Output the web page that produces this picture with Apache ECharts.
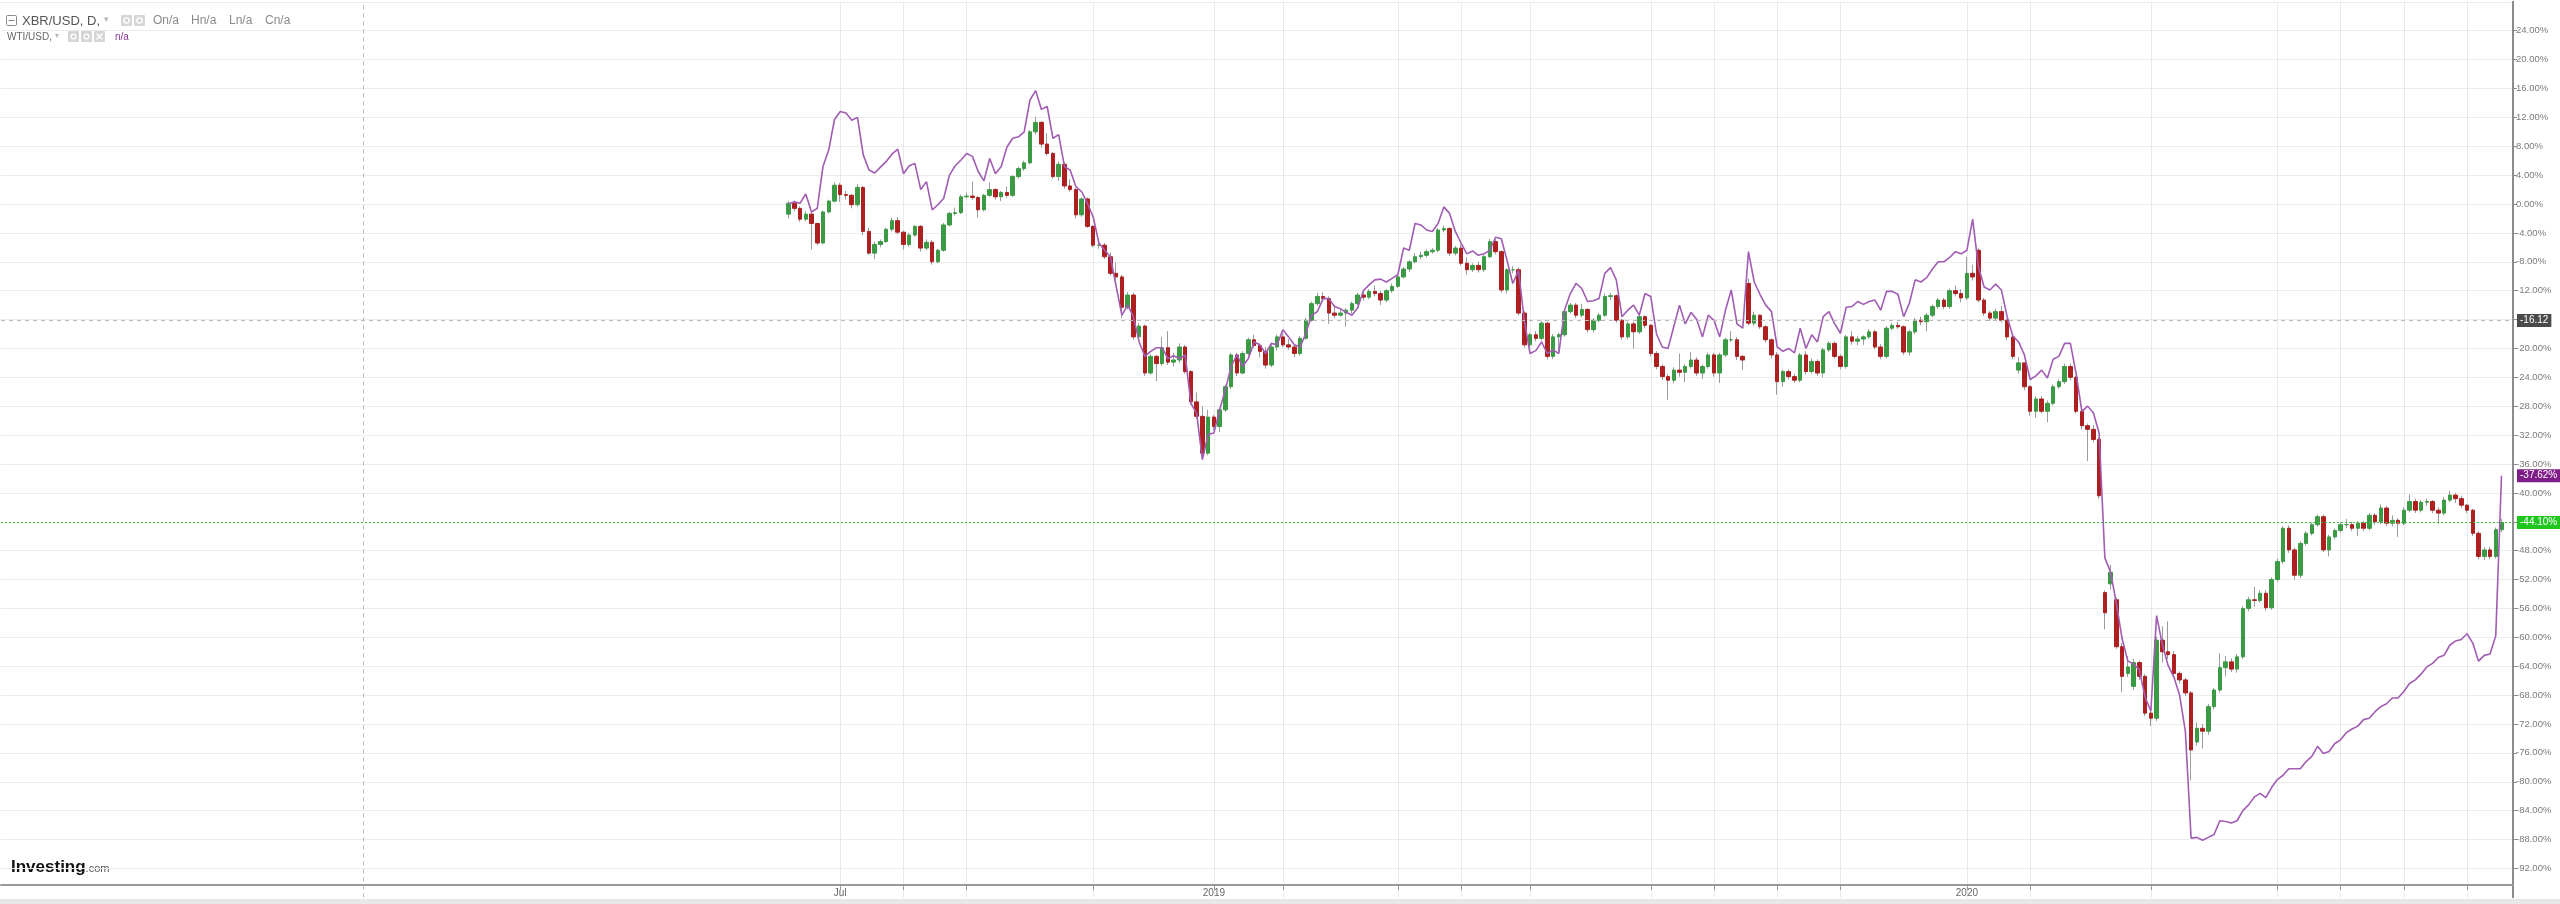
<!DOCTYPE html>
<html><head><meta charset="utf-8">
<script src="https://cdn.jsdelivr.net/npm/echarts@6/dist/echarts.min.js"></script>
<style>html,body{margin:0;padding:0;background:#fff;overflow:hidden}#chart{width:2560px;height:904px}</style>
</head><body><div id="chart"></div>
<script>
// ---------- axis / category definition ----------
const axisStartDate = '2017-05-19';   // first (empty) slot of the visible time axis
const axisSlots = 438;                // number of 2-trading-day slots shown
const tradingDaysPerSlot = 2;
const firstDataDate = '2018-06-07';   // first XBR / WTI point
// months that carry a vertical grid line / tick on the x axis
const gridMonths = ['2018-07','2018-08','2018-09','2018-11','2019-01','2019-02','2019-04','2019-05','2019-06',
  '2019-08','2019-09','2019-10','2019-11','2020-01','2020-02','2020-04','2020-06','2020-07','2020-08','2020-09'];
// x tick labels
const xTickLabels = {'2018-07':'Jul','2019-01':'2019','2020-01':'2020'};
// y axis (percent change)
const yMin = -96, yMax = 28, yStep = 4;

// ---------- series values (percent change from first bar) ----------
// XBR/USD candles: [open, close, low, high]
const xbrOHLC = [
[-1.4,0.1,-2.0,0.4],[0.1,-0.6,-1.0,0.5],[-0.6,-2.1,-2.5,-0.3],[-2.1,-1.4,-2.4,-1.0],[-1.4,-2.7,-6.3,-1.2],
[-2.7,-5.4,-5.7,-2.6],[-5.4,-1.1,-5.6,-0.9],[-1.1,0.4,-1.3,0.6],[0.4,2.6,0.2,3.0],[2.6,1.3,0.3,2.9],
[1.3,1.2,0.6,1.8],[1.2,-0.1,-0.6,1.4],[-0.1,2.3,-0.4,2.8],[2.3,-3.8,-4.3,2.5],[-3.8,-6.8,-7.0,-3.3],
[-6.8,-5.6,-7.6,-5.2],[-5.6,-5.2,-6.0,-4.9],[-5.2,-3.5,-5.4,-3.3],[-3.5,-2.3,-3.8,-1.9],[-2.3,-3.9,-4.2,-1.8],
[-3.9,-5.6,-6.3,-3.7],[-5.6,-4.3,-5.9,-4.0],[-4.3,-3.1,-4.5,-2.9],[-3.1,-6.1,-6.6,-2.9],[-6.1,-5.3,-6.4,-4.9],
[-5.3,-8.0,-8.4,-5.0],[-8.0,-6.4,-8.2,-6.2],[-6.4,-2.9,-6.6,-2.6],[-2.9,-1.3,-3.1,-1.1],[-1.3,-1.2,-1.6,-0.5],
[-1.2,1.0,-1.4,1.3],[1.0,1.1,0.8,1.6],[1.1,0.9,0.6,3.1],[0.9,-0.8,-1.9,1.1],[-0.8,1.2,-1.0,1.4],
[1.2,2.0,1.0,3.0],[2.0,1.0,0.6,2.2],[1.0,1.6,0.4,1.8],[1.6,1.2,0.9,2.4],[1.2,3.8,1.0,4.0],
[3.8,4.9,3.5,5.2],[4.9,5.7,4.6,6.0],[5.7,10.0,5.5,10.2],[10.0,11.3,9.6,12.1],[11.3,8.3,7.8,11.5],
[8.3,7.0,6.7,9.8],[7.0,3.8,3.5,7.2],[3.8,5.5,3.2,5.9],[5.5,2.5,2.1,5.8],[2.5,2.0,1.7,3.4],
[2.0,-1.5,-2.0,2.2],[-1.5,0.7,-1.8,0.9],[0.7,-3.1,-3.3,0.9],[-3.1,-5.7,-6.0,-2.9],[-5.7,-5.7,-6.2,-5.1],
[-5.7,-7.3,-7.6,-5.4],[-7.3,-9.6,-9.9,-6.7],[-9.6,-10.1,-10.5,-8.1],[-10.1,-14.3,-15.8,-9.8],[-14.3,-12.6,-14.6,-12.2],
[-12.6,-18.4,-18.8,-12.3],[-18.4,-16.9,-18.7,-16.5],[-16.9,-23.4,-23.8,-16.7],[-23.4,-21.1,-23.6,-20.8],[-21.1,-22.1,-24.5,-20.9],
[-22.1,-19.9,-22.4,-18.4],[-19.9,-21.9,-22.3,-17.6],[-21.9,-21.6,-22.5,-20.6],[-21.6,-19.8,-22.0,-19.3],[-19.8,-23.2,-23.5,-19.5],
[-23.2,-27.4,-27.8,-23.0],[-27.4,-29.4,-29.7,-26.1],[-29.4,-34.5,-35.0,-28.0],[-34.5,-29.5,-34.8,-28.5],[-29.5,-30.8,-31.3,-29.2],
[-30.8,-28.5,-31.6,-28.2],[-28.5,-25.3,-28.8,-25.0],[-25.3,-20.9,-25.6,-20.6],[-20.9,-23.4,-23.8,-20.6],[-23.4,-20.7,-23.6,-20.4],
[-20.7,-18.8,-21.0,-18.5],[-18.8,-19.6,-19.9,-18.1],[-19.6,-20.4,-21.2,-19.3],[-20.4,-22.3,-22.8,-19.8],[-22.3,-19.8,-22.6,-19.4],
[-19.8,-18.4,-20.3,-18.1],[-18.4,-19.5,-19.8,-17.9],[-19.5,-19.8,-20.2,-18.7],[-19.8,-20.7,-21.2,-19.4],[-20.7,-18.6,-21.0,-18.3],
[-18.6,-16.1,-18.8,-15.8],[-16.1,-13.8,-16.3,-13.5],[-13.8,-12.8,-14.1,-12.3],[-12.8,-13.1,-13.6,-12.2],[-13.1,-15.1,-16.6,-12.8],
[-15.1,-15.4,-15.8,-14.0],[-15.4,-15.1,-15.6,-14.7],[-15.1,-14.7,-17.0,-14.4],[-14.7,-13.8,-15.2,-13.5],[-13.8,-12.6,-14.0,-12.3],
[-12.6,-12.9,-13.4,-12.2],[-12.9,-12.1,-13.2,-11.8],[-12.1,-12.4,-12.8,-11.3],[-12.4,-13.3,-14.0,-12.0],[-13.3,-12.0,-13.6,-11.8],
[-12.0,-11.4,-12.3,-11.0],[-11.4,-10.1,-11.6,-9.8],[-10.1,-9.0,-10.3,-8.7],[-9.0,-8.0,-9.4,-7.8],[-8.0,-7.3,-8.2,-6.8],
[-7.3,-7.1,-7.6,-6.6],[-7.1,-6.6,-7.4,-6.3],[-6.6,-6.4,-6.9,-6.1],[-6.4,-3.6,-6.7,-3.3],[-3.6,-3.4,-3.9,-3.0],
[-3.4,-6.8,-7.2,-3.2],[-6.8,-6.1,-7.1,-5.8],[-6.1,-8.2,-8.5,-5.6],[-8.2,-9.1,-9.8,-7.4],[-9.1,-8.5,-9.4,-8.2],
[-8.5,-9.1,-9.5,-8.0],[-9.1,-7.3,-9.4,-7.0],[-7.3,-5.2,-7.5,-4.8],[-5.2,-6.6,-7.0,-4.8],[-6.6,-11.9,-12.3,-6.4],
[-11.9,-9.1,-12.4,-8.9],[-9.1,-9.1,-9.6,-8.6],[-9.1,-15.1,-15.4,-8.8],[-15.1,-19.5,-19.9,-14.8],[-19.5,-18.1,-19.8,-17.8],
[-18.1,-18.6,-19.0,-17.6],[-18.6,-16.5,-18.9,-16.2],[-16.5,-21.1,-21.5,-16.3],[-21.1,-18.4,-21.5,-18.0],[-18.4,-18.1,-20.6,-17.8],
[-18.1,-14.9,-18.4,-14.6],[-14.9,-14.0,-15.2,-13.7],[-14.0,-15.4,-15.8,-13.7],[-15.4,-14.6,-15.7,-13.8],[-14.6,-17.4,-17.8,-14.4],
[-17.4,-16.1,-17.8,-15.8],[-16.1,-15.4,-16.4,-15.1],[-15.4,-12.8,-15.6,-12.4],[-12.8,-12.7,-13.3,-12.3],[-12.7,-16.1,-16.4,-12.5],
[-16.1,-18.4,-18.8,-15.9],[-18.4,-16.6,-18.7,-16.3],[-16.6,-17.7,-20.0,-16.3],[-17.7,-15.6,-18.0,-15.3],[-15.6,-16.8,-17.2,-15.4],
[-16.8,-20.7,-21.1,-16.6],[-20.7,-22.5,-22.9,-20.4],[-22.5,-23.9,-24.4,-22.2],[-23.9,-24.4,-27.1,-23.6],[-24.4,-23.0,-24.8,-22.6],
[-23.0,-23.3,-23.9,-20.7],[-23.3,-22.5,-24.7,-22.2],[-22.5,-21.6,-22.8,-20.5],[-21.6,-23.4,-23.8,-21.2],[-23.4,-22.5,-24.2,-22.2],
[-22.5,-20.9,-22.8,-20.6],[-20.9,-23.4,-23.9,-20.6],[-23.4,-20.9,-24.8,-20.6],[-20.9,-18.8,-21.2,-18.5],[-18.8,-18.8,-19.1,-17.6],
[-18.8,-21.1,-21.6,-18.4],[-21.1,-21.6,-23.0,-20.9],[-11.0,-16.5,-16.8,-10.3],[-16.5,-15.4,-16.9,-14.9],[-15.4,-17.0,-17.3,-15.3],
[-17.0,-18.8,-19.2,-16.8],[-18.8,-20.9,-21.4,-18.6],[-20.9,-24.6,-26.4,-20.5],[-24.6,-23.2,-25.3,-22.9],[-23.2,-23.9,-24.3,-22.9],
[-23.9,-24.4,-24.8,-23.5],[-24.4,-20.9,-24.7,-20.6],[-20.9,-23.2,-23.6,-20.4],[-23.2,-21.8,-23.5,-21.4],[-21.8,-23.4,-23.8,-21.5],
[-23.4,-20.2,-24.0,-19.9],[-20.2,-19.3,-20.5,-19.0],[-19.3,-21.1,-21.4,-19.0],[-21.1,-22.5,-22.9,-20.8],[-22.5,-18.4,-22.8,-18.1],
[-18.4,-19.0,-19.5,-17.6],[-19.0,-18.7,-19.6,-18.3],[-18.7,-18.4,-19.5,-18.2],[-18.4,-17.7,-18.7,-17.3],[-17.7,-19.8,-20.1,-17.4],
[-19.8,-21.1,-21.5,-19.4],[-21.1,-17.2,-21.4,-16.9],[-17.2,-16.8,-17.5,-16.5],[-16.8,-17.0,-17.3,-16.3],[-17.0,-20.5,-20.9,-16.8],
[-20.5,-17.7,-21.0,-17.4],[-17.7,-16.1,-18.0,-15.8],[-16.1,-16.3,-16.8,-15.6],[-16.3,-15.4,-17.6,-15.1],[-15.4,-14.2,-15.7,-13.9],
[-14.2,-13.3,-14.5,-13.0],[-13.3,-14.2,-14.6,-13.0],[-14.2,-12.0,-14.5,-11.7],[-12.0,-12.4,-12.8,-11.3],[-12.4,-13.0,-13.6,-11.8],
[-13.0,-9.6,-13.3,-7.3],[-9.6,-10.1,-10.6,-8.4],[-6.4,-13.3,-13.6,-6.1],[-13.3,-15.1,-15.5,-13.0],[-15.1,-15.8,-16.2,-14.8],
[-15.8,-14.9,-16.1,-14.5],[-14.9,-16.1,-16.4,-14.1],[-16.1,-18.4,-18.8,-15.9],[-18.4,-21.1,-21.5,-18.1],[-23.0,-22.0,-23.5,-21.2],
[-22.0,-25.3,-25.8,-21.9],[-25.3,-28.7,-29.3,-25.1],[-28.7,-27.0,-29.6,-26.6],[-27.0,-28.7,-29.0,-26.6],[-28.7,-27.6,-30.2,-27.2],
[-27.6,-25.3,-27.9,-25.0],[-25.3,-24.6,-25.6,-24.3],[-24.6,-22.5,-24.9,-22.1],[-22.5,-24.0,-24.4,-22.1],[-24.0,-28.7,-29.0,-23.8],
[-28.7,-30.7,-31.2,-28.4],[-30.7,-31.2,-35.6,-30.4],[-31.2,-32.6,-33.0,-30.6],[-32.6,-40.4,-40.8,-32.3],[-53.8,-56.6,-58.9,-53.5],
[-52.6,-51.0,-53.4,-50.0],[-54.8,-61.3,-61.6,-54.5],[-61.3,-65.4,-67.6,-60.8],[-65.0,-64.1,-65.5,-62.6],[-66.8,-63.5,-67.3,-63.0],
[-63.5,-65.4,-65.9,-63.2],[-65.4,-70.5,-70.9,-65.1],[-70.5,-71.2,-72.3,-70.2],[-71.2,-60.4,-71.6,-59.9],[-60.4,-62.0,-63.5,-58.5],
[-62.0,-62.4,-63.0,-57.8],[-62.4,-65.0,-65.5,-61.9],[-65.0,-65.9,-66.4,-64.7],[-65.9,-67.7,-68.1,-65.6],[-67.7,-75.6,-79.8,-67.4],
[-74.5,-72.6,-75.0,-71.8],[-72.6,-73.0,-75.4,-72.0],[-73.0,-69.6,-73.5,-69.2],[-69.6,-67.3,-70.0,-67.0],[-67.3,-64.2,-67.6,-62.2],
[-64.2,-63.4,-65.4,-62.6],[-63.4,-64.4,-64.8,-62.9],[-64.4,-62.7,-64.9,-62.3],[-62.7,-56.0,-63.0,-55.7],[-56.0,-54.8,-56.4,-54.4],
[-54.8,-54.9,-55.8,-53.0],[-54.9,-53.9,-55.2,-53.5],[-53.9,-55.9,-56.3,-53.5],[-55.9,-52.0,-56.2,-51.7],[-52.0,-49.5,-52.3,-49.1],
[-49.5,-44.9,-49.8,-44.6],[-44.9,-47.9,-48.3,-44.5],[-47.9,-51.4,-52.0,-47.6],[-51.4,-47.0,-51.8,-46.7],[-47.0,-45.6,-47.3,-45.3],
[-45.6,-44.4,-45.9,-44.1],[-44.4,-43.3,-44.7,-43.0],[-43.3,-47.9,-48.2,-43.0],[-47.9,-46.1,-48.8,-45.8],[-46.1,-45.2,-46.4,-44.9],
[-45.2,-44.4,-45.5,-44.1],[-44.4,-44.4,-44.9,-43.6],[-44.4,-44.9,-45.3,-44.0],[-44.9,-44.2,-46.0,-43.9],[-44.2,-44.9,-45.3,-43.9],
[-44.9,-43.1,-45.2,-42.8],[-43.1,-44.0,-44.4,-42.8],[-44.0,-42.1,-44.3,-41.6],[-42.1,-44.2,-44.6,-41.8],[-44.2,-43.8,-44.6,-43.1],
[-43.8,-44.2,-46.1,-43.5],[-44.2,-42.4,-44.5,-42.0],[-42.4,-41.2,-42.7,-40.2],[-41.2,-42.4,-42.8,-40.8],[-42.4,-41.3,-42.7,-41.0],
[-41.3,-41.2,-41.8,-40.8],[-41.2,-42.4,-42.8,-41.0],[-42.4,-42.8,-44.3,-42.0],[-42.8,-41.0,-43.1,-40.6],[-41.0,-40.3,-41.3,-39.7],
[-40.3,-40.8,-41.4,-40.0],[-40.8,-41.7,-42.1,-40.4],[-41.7,-42.4,-42.8,-41.5],[-42.4,-45.6,-46.0,-42.2],[-45.6,-48.8,-49.2,-45.3],
[-48.8,-47.9,-49.3,-47.5],[-47.9,-48.8,-49.2,-47.5],[-48.8,-45.1,-49.1,-44.8],[-45.1,-44.1,-45.4,-43.6]
];
// WTI/USD line
const wtiPct = [
0.0,0.3,0.1,1.4,-1.1,-0.6,5.2,7.5,11.7,12.8,12.6,11.6,12.0,6.8,4.7,4.3,5.1,5.9,6.9,7.6,
4.2,5.3,5.6,2.0,3.1,-0.8,-0.1,0.8,4.0,5.3,6.1,7.0,6.6,4.5,3.2,6.3,4.2,5.2,7.9,9.1,
9.3,10.0,14.4,15.7,13.1,13.5,9.1,9.6,5.2,4.7,2.4,1.7,0.1,-1.8,-5.4,-6.4,-7.3,-11.4,-15.4,-14.0,
-15.6,-19.1,-21.1,-20.4,-19.9,-19.9,-21.4,-21.0,-21.4,-20.9,-27.6,-29.0,-35.4,-31.9,-31.7,-28.5,-25.7,-22.5,-20.9,-22.5,
-21.4,-19.1,-19.5,-20.7,-19.3,-19.5,-17.4,-18.4,-19.5,-19.8,-17.9,-15.4,-14.9,-13.1,-13.1,-14.2,-14.5,-15.0,-15.4,-14.4,
-12.0,-11.2,-10.5,-10.4,-10.8,-10.3,-9.8,-6.1,-6.4,-2.7,-2.9,-3.6,-3.8,-2.7,-0.4,-1.3,-3.8,-5.4,-6.9,-6.5,
-7.1,-6.9,-6.4,-4.6,-4.8,-7.8,-11.0,-9.2,-16.1,-20.7,-20.3,-19.1,-20.7,-20.2,-20.7,-14.7,-12.4,-11.0,-11.7,-13.5,
-13.4,-13.1,-9.6,-8.8,-10.5,-15.6,-14.7,-14.0,-15.4,-12.4,-12.8,-18.0,-19.8,-20.0,-17.0,-14.0,-16.6,-15.0,-16.0,-18.4,
-15.4,-16.1,-18.4,-14.7,-11.9,-16.6,-17.2,-6.6,-10.8,-12.5,-14.0,-14.9,-19.8,-20.4,-20.0,-20.6,-17.2,-20.0,-18.1,-19.1,
-15.6,-14.9,-16.6,-17.9,-14.3,-14.2,-13.5,-13.9,-13.5,-13.3,-14.7,-12.1,-12.1,-12.5,-15.6,-13.7,-10.5,-10.8,-10.2,-9.0,
-8.0,-8.0,-7.4,-6.6,-6.9,-6.4,-2.1,-8.7,-11.5,-11.9,-11.1,-11.9,-15.6,-18.3,-19.1,-20.9,-24.3,-23.8,-23.0,-24.1,
-21.5,-21.1,-19.3,-19.3,-23.5,-28.7,-28.0,-28.9,-31.7,-49.0,-51.0,-55.3,-60.2,-63.3,-63.7,-64.5,-68.3,-70.2,-57.0,-61.0,
-63.9,-65.5,-68.0,-73.0,-87.8,-87.7,-88.1,-87.7,-87.3,-85.4,-85.5,-85.7,-85.4,-84.0,-83.2,-82.1,-81.6,-82.2,-80.8,-79.7,
-79.1,-78.2,-78.2,-78.2,-77.2,-76.5,-75.1,-76.1,-75.8,-74.7,-74.2,-73.2,-72.7,-72.3,-71.4,-71.2,-70.3,-69.6,-69.2,-68.4,
-68.4,-67.5,-66.4,-65.9,-65.1,-64.1,-63.6,-62.8,-62.5,-61.1,-60.5,-60.3,-59.5,-60.8,-63.3,-62.5,-62.3,-59.8,-37.62
];
const xbrLast = -44.10;
const wtiLast = -37.62;
const crosshairDate = '2017-11-13';
const crosshairValue = -16.12;

// ---------- build ----------
function addWeekdays(date, n) {
  const r = new Date(date.getTime());
  let k = 0;
  while (k < n) { r.setUTCDate(r.getUTCDate() + 1); const w = r.getUTCDay(); if (w !== 0 && w !== 6) k++; }
  return r;
}
const categories = [];
let cur = new Date(axisStartDate + 'T00:00:00Z');
for (let i = 0; i < axisSlots; i++) { categories.push(cur.toISOString().slice(0, 10)); cur = addWeekdays(cur, tradingDaysPerSlot); }
const firstIdx = categories.findIndex(c => c >= firstDataDate);
const ym = c => c.slice(0, 7);
const monthStart = categories.map((c, i) => i === 0 || ym(categories[i - 1]) !== ym(c));
const isGrid = i => monthStart[i] && gridMonths.indexOf(ym(categories[i])) >= 0;
const isLabel = i => monthStart[i] && xTickLabels[ym(categories[i])] !== undefined;

const wickData = xbrOHLC.map((r, k) => [firstIdx + k, r[0], r[1], r[2], r[3]]);
const bodyData = xbrOHLC.map((r, k) => [firstIdx + k, r[0], r[1], Math.min(r[0], r[1]), Math.max(r[0], r[1])]);
const wtiData = wtiPct.map((v, k) => [firstIdx + k, v]);

const nLines = Math.round((yMax - yMin) / yStep) + 1;
const hSplitColors = [];
for (let i = 0; i < nLines; i++) hSplitColors.push(i === 0 ? 'rgba(0,0,0,0)' : '#ececec');

const UP = '#3b9b45', DOWN = '#ae1f1f', WICK = '#9c9c9c', WTI = '#a15cb3';
const FONT = 'Liberation Sans, Arial, sans-serif';

const chart = echarts.init(document.getElementById('chart'), null, {renderer: 'canvas', width: 2560, height: 904});
const gridTop = 1.8, gridBottom = 6.7;
chart.setOption({
  animation: false,
  backgroundColor: '#ffffff',
  grid: {left: 1, right: 47, top: gridTop, bottom: gridBottom, containLabel: false},
  xAxis: {
    type: 'category', data: categories, boundaryGap: false, offset: -12.3,
    axisLine: {show: true, onZero: false, lineStyle: {color: '#9a9a9a', width: 2}},
    axisTick: {show: true, interval: i => isGrid(i), length: 5, lineStyle: {color: '#9a9a9a'}},
    axisLabel: {interval: i => isLabel(i), formatter: v => xTickLabels[ym(v)] || '', color: '#666', fontSize: 10, fontFamily: FONT, margin: 3},
    splitLine: {show: true, interval: i => isGrid(i), lineStyle: {color: '#e9e9e9', width: 1}}
  },
  yAxis: {
    type: 'value', position: 'right', min: yMin, max: yMax, interval: yStep,
    axisLine: {show: true, onZero: false, lineStyle: {color: '#8c8c8c', width: 2}},
    axisTick: {show: true, length: 4, lineStyle: {color: '#8c8c8c'}},
    axisLabel: {formatter: v => v.toFixed(2) + '%', color: '#7a7a7a', fontSize: 9.5, fontFamily: FONT, margin: 3,
      showMinLabel: false, showMaxLabel: false},
    splitLine: {show: true, lineStyle: {color: hSplitColors, width: 1}}
  },
  series: [
    {type: 'candlestick', name: 'XBR wicks', data: wickData, encode: {x: 0, y: [1, 2, 3, 4]}, large: false,
      barWidth: 1, silent: true, z: 2,
      itemStyle: {color: WICK, color0: WICK, borderColor: WICK, borderColor0: WICK, borderWidth: 1}},
    {type: 'candlestick', name: 'XBR/USD', data: bodyData, encode: {x: 0, y: [1, 2, 3, 4]}, large: false,
      barWidth: 4, silent: true, z: 3,
      itemStyle: {color: UP, color0: DOWN, borderColor: UP, borderColor0: DOWN, borderWidth: 1},
      markLine: {silent: true, symbol: ['none', 'none'], animation: false,
        data: [
          {xAxis: crosshairDate, lineStyle: {type: [4, 4], color: '#b8b8b8', width: 1}, label: {show: false}},
          {yAxis: crosshairValue, lineStyle: {type: [4, 4], color: '#b8b8b8', width: 1},
            label: {show: true, position: 'end', distance: 4, formatter: () => crosshairValue.toFixed(2),
              backgroundColor: '#4b4b4b', color: '#fff', padding: [2, 3, 1, 3], fontSize: 10, fontFamily: FONT}},
          {yAxis: xbrLast, lineStyle: {type: [2, 2], color: '#3cc53c', width: 1},
            label: {show: true, position: 'end', distance: 4, formatter: () => xbrLast.toFixed(2) + '%',
              backgroundColor: '#20c620', color: '#fff', padding: [2, 3, 1, 3], fontSize: 10, fontFamily: FONT}}
        ]}},
    {type: 'line', name: 'WTI/USD', data: wtiData, showSymbol: false, symbol: 'none', silent: true, z: 4,
      lineStyle: {color: WTI, width: 1.6}, itemStyle: {color: WTI},
      markLine: {silent: true, symbol: ['none', 'none'], animation: false,
        data: [{yAxis: wtiLast, lineStyle: {color: 'rgba(0,0,0,0)', width: 0},
          label: {show: true, position: 'end', distance: 4, formatter: () => wtiLast.toFixed(2) + '%',
            backgroundColor: '#7e1c88', color: '#fff', padding: [2, 3, 1, 3], fontSize: 10, fontFamily: FONT}}]}}
  ],
  graphic: [
    {type: 'rect', silent: true, z: 0, shape: {x: 0, y: 899, width: 2560, height: 5}, style: {fill: '#e8e8e8'}},
    // header row 1
    {type: 'rect', silent: true, shape: {x: 6.5, y: 15.5, width: 10, height: 10, r: 1}, style: {fill: '#fff', stroke: '#8a8a8a', lineWidth: 1}},
    {type: 'line', silent: true, shape: {x1: 8.5, y1: 20.5, x2: 14.5, y2: 20.5}, style: {stroke: '#8a8a8a', lineWidth: 1}},
    {type: 'text', silent: true, x: 22, y: 21, style: {text: 'XBR/USD, D,', fontSize: 13, fontFamily: FONT, fill: '#555', verticalAlign: 'middle', textVerticalAlign: 'middle'}},
    {type: 'text', silent: true, x: 104, y: 20, style: {text: '▾', fontSize: 9, fontFamily: 'DejaVu Sans', fill: '#b5b5b5', verticalAlign: 'middle', textVerticalAlign: 'middle'}},
    {type: 'rect', silent: true, shape: {x: 121, y: 15, width: 11, height: 11, r: 1}, style: {fill: '#d6d6d6'}},
    {type: 'circle', silent: true, shape: {cx: 126.5, cy: 20.5, r: 2.6}, style: {fill: 'none', stroke: '#fff', lineWidth: 1.4}},
    {type: 'rect', silent: true, shape: {x: 134, y: 15, width: 11, height: 11, r: 1}, style: {fill: '#d6d6d6'}},
    {type: 'circle', silent: true, shape: {cx: 139.5, cy: 20.5, r: 2.6}, style: {fill: 'none', stroke: '#fff', lineWidth: 1.4}},
    {type: 'text', silent: true, x: 153, y: 21, style: {text: 'On/a', fontSize: 12, fontFamily: FONT, fill: '#8a8a8a', verticalAlign: 'middle', textVerticalAlign: 'middle'}},
    {type: 'text', silent: true, x: 191, y: 21, style: {text: 'Hn/a', fontSize: 12, fontFamily: FONT, fill: '#8a8a8a', verticalAlign: 'middle', textVerticalAlign: 'middle'}},
    {type: 'text', silent: true, x: 229, y: 21, style: {text: 'Ln/a', fontSize: 12, fontFamily: FONT, fill: '#8a8a8a', verticalAlign: 'middle', textVerticalAlign: 'middle'}},
    {type: 'text', silent: true, x: 265, y: 21, style: {text: 'Cn/a', fontSize: 12, fontFamily: FONT, fill: '#8a8a8a', verticalAlign: 'middle', textVerticalAlign: 'middle'}},
    // header row 2
    {type: 'text', silent: true, x: 7, y: 37, style: {text: 'WTI/USD,', fontSize: 10, fontFamily: FONT, fill: '#666', verticalAlign: 'middle', textVerticalAlign: 'middle'}},
    {type: 'text', silent: true, x: 55, y: 36, style: {text: '▾', fontSize: 8, fontFamily: 'DejaVu Sans', fill: '#b5b5b5', verticalAlign: 'middle', textVerticalAlign: 'middle'}},
    {type: 'rect', silent: true, shape: {x: 68, y: 31, width: 11, height: 11, r: 1}, style: {fill: '#d6d6d6'}},
    {type: 'circle', silent: true, shape: {cx: 73.5, cy: 36.5, r: 2.4}, style: {fill: 'none', stroke: '#fff', lineWidth: 1.3}},
    {type: 'rect', silent: true, shape: {x: 81, y: 31, width: 11, height: 11, r: 1}, style: {fill: '#d6d6d6'}},
    {type: 'circle', silent: true, shape: {cx: 86.5, cy: 36.5, r: 2.4}, style: {fill: 'none', stroke: '#fff', lineWidth: 1.3}},
    {type: 'rect', silent: true, shape: {x: 94, y: 31, width: 11, height: 11, r: 1}, style: {fill: '#d6d6d6'}},
    {type: 'line', silent: true, shape: {x1: 96.5, y1: 33.5, x2: 102.5, y2: 39.5}, style: {stroke: '#fff', lineWidth: 1.4}},
    {type: 'line', silent: true, shape: {x1: 102.5, y1: 33.5, x2: 96.5, y2: 39.5}, style: {stroke: '#fff', lineWidth: 1.4}},
    {type: 'text', silent: true, x: 115, y: 37, style: {text: 'n/a', fontSize: 10, fontFamily: FONT, fill: '#8e3a9c', verticalAlign: 'middle', textVerticalAlign: 'middle'}},
    // logo
    {type: 'text', silent: true, x: 11, y: 867, style: {
      text: '{a|Investing}{b|.com}', verticalAlign: 'middle', textVerticalAlign: 'middle',
      rich: {a: {fontSize: 17, fontWeight: 'bold', fontFamily: FONT, fill: '#111', color: '#111'},
             b: {fontSize: 11, fontFamily: FONT, fill: '#555', color: '#555', padding: [4, 0, 0, 0]}}}}
  ]
});
</script>
</body></html>
